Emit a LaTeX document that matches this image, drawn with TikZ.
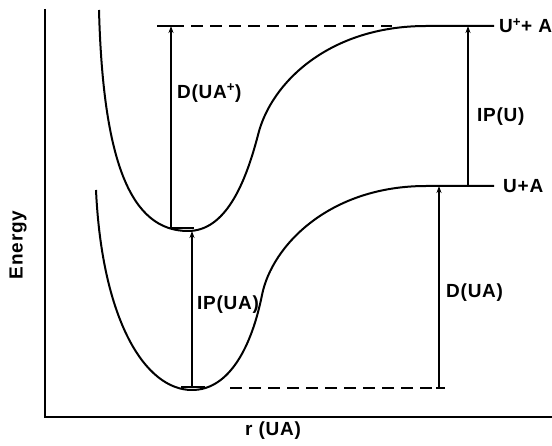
\documentclass[tikz,border=0pt]{standalone}
\usepackage{fontspec}
\setmainfont{Liberation Sans}[LetterSpace=4]
\usetikzlibrary{arrows.meta}
\begin{document}
\begin{tikzpicture}[x=1pt,y=-1pt,
  curve/.style={line width=2pt, line join=round},
  axisline/.style={line width=2pt},
  level/.style={line width=2pt},
  dashline/.style={line width=2pt, dash pattern=on 12pt off 7pt},
  uparrow/.style={line width=2pt, -{Stealth[length=7pt,width=5pt]}},
  lbl/.style={inner sep=0pt, font=\fontsize{19}{21}\selectfont\bfseries}]
\path[use as bounding box] (0,0) rectangle (552,446);
% axes
\coordinate (ytop) at (45,9);
\coordinate (origin) at (45,417);
\coordinate (xend) at (552,417);
\draw[axisline] (ytop) -- (origin) -- (xend);
\node[lbl, rotate=90] (energy) at (18,245) {Energy};
\node[lbl] (rlab) at (273,431) {r (UA)};
% upper curve (U+ + A)
\draw[curve] (99,10) .. controls (103,160) and (130,231) .. (188,231)
  .. controls (225,231) and (245,185) .. (258,135)
  .. controls (271,82) and (330,26) .. (426,26) -- (494,26);
% lower curve (U + A)
\draw[curve] (96,190) .. controls (102,320) and (145,390) .. (192,390)
  .. controls (230,390) and (252,345) .. (262,295)
  .. controls (272,245) and (330,186) .. (426,186) -- (494,186);
% vibrational levels
\coordinate (ul1) at (169,228);
\coordinate (ul2) at (194,228);
\draw[level] (ul1) -- (ul2);
\coordinate (ll1) at (181,387);
\coordinate (ll2) at (205,387);
\draw[level] (ll1) -- (ll2);
% dashed reference lines
\coordinate (td0) at (157,26);
\coordinate (td1) at (172,26);
\coordinate (td2) at (392,26);
\draw[level] (td0) -- (td1);
\draw[dashline] (td1) -- (td2);
\coordinate (bd1) at (230,388);
\coordinate (bd2) at (436,388);
\coordinate (bd3) at (445,388);
\draw[dashline] (bd1) -- (bd2);
\draw[level] (bd2) -- (bd3);
% arrows
\coordinate (a1s) at (171,228);
\coordinate (a1e) at (171,26);
\draw[uparrow] (a1s) -- (a1e);
\coordinate (a2s) at (192,387);
\coordinate (a2e) at (192,231);
\draw[uparrow] (a2s) -- (a2e);
\coordinate (a3s) at (468,186);
\coordinate (a3e) at (468,26);
\draw[uparrow] (a3s) -- (a3e);
\coordinate (a4s) at (439,388);
\coordinate (a4e) at (439,186);
\draw[uparrow] (a4s) -- (a4e);
% labels
\node[lbl, anchor=west] (dua+) at (177,93) {D(UA\textsuperscript{+})};
\node[lbl, anchor=west] (ipua) at (197,305) {IP(UA)};
\node[lbl, anchor=west] (ipu) at (477,117) {IP(U)};
\node[lbl, anchor=west] (dua) at (446,293) {D(UA)};
\node[lbl, anchor=west] (up) at (499,26) {U\textsuperscript{+}+ A};
\node[lbl, anchor=west] (u) at (503,186) {U+A};
\end{tikzpicture}
\end{document}
